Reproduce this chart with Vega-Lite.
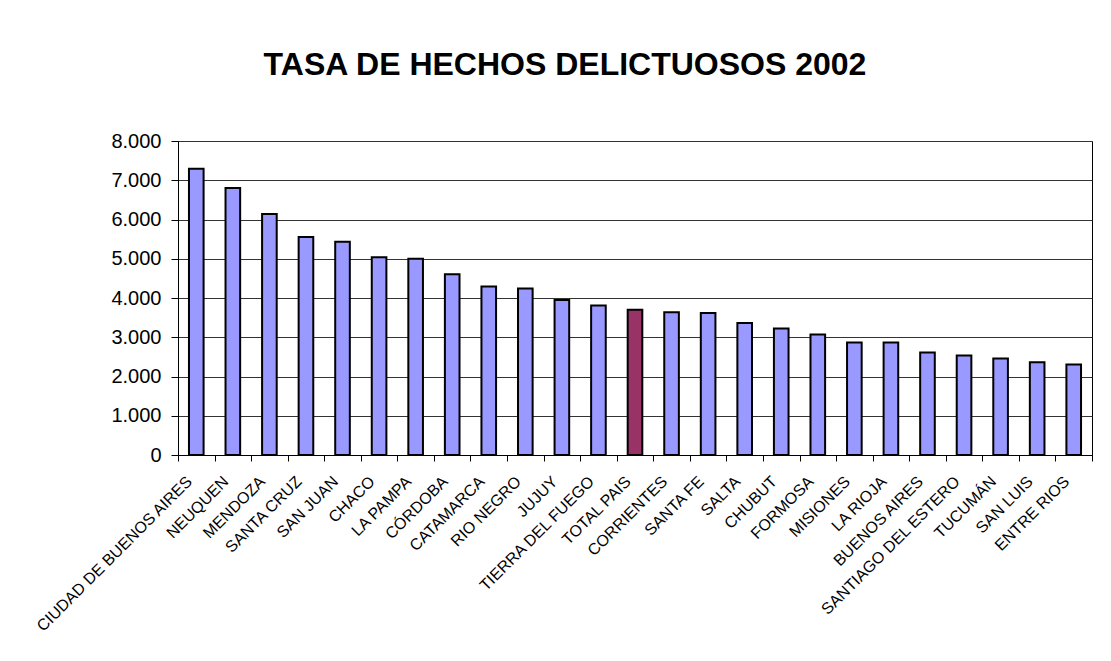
{
  "$schema": "https://vega.github.io/schema/vega-lite/v6.json",
  "autosize": "none",
  "width": 914,
  "height": 314,
  "padding": {"left": 178, "top": 141, "right": 19, "bottom": 206},
  "background": "white",
  "title": {
    "text": "TASA DE HECHOS DELICTUOSOS 2002",
    "font": "Liberation Sans",
    "fontSize": 32,
    "fontWeight": "bold",
    "color": "black",
    "anchor": "middle",
    "frame": "group",
    "baseline": "alphabetic",
    "offset": 24,
    "dx": -70
  },
  "config": {
    "locale": {"number": {"decimal": ",", "thousands": ".", "grouping": [3], "currency": ["$", ""]}},
    "view": {"stroke": "black", "strokeWidth": 1},
    "font": "Liberation Sans"
  },
  "data": {
    "values": [
      {"provincia": "CIUDAD DE BUENOS AIRES", "tasa": 7290, "tipo": "prov"},
      {"provincia": "NEUQUEN", "tasa": 6800, "tipo": "prov"},
      {"provincia": "MENDOZA", "tasa": 6140, "tipo": "prov"},
      {"provincia": "SANTA CRUZ", "tasa": 5555, "tipo": "prov"},
      {"provincia": "SAN JUAN", "tasa": 5430, "tipo": "prov"},
      {"provincia": "CHACO", "tasa": 5040, "tipo": "prov"},
      {"provincia": "LA PAMPA", "tasa": 5000, "tipo": "prov"},
      {"provincia": "CÓRDOBA", "tasa": 4605, "tipo": "prov"},
      {"provincia": "CATAMARCA", "tasa": 4290, "tipo": "prov"},
      {"provincia": "RIO NEGRO", "tasa": 4240, "tipo": "prov"},
      {"provincia": "JUJUY", "tasa": 3950, "tipo": "prov"},
      {"provincia": "TIERRA DEL FUEGO", "tasa": 3810, "tipo": "prov"},
      {"provincia": "TOTAL PAIS", "tasa": 3700, "tipo": "total"},
      {"provincia": "CORRIENTES", "tasa": 3640, "tipo": "prov"},
      {"provincia": "SANTA FE", "tasa": 3620, "tipo": "prov"},
      {"provincia": "SALTA", "tasa": 3360, "tipo": "prov"},
      {"provincia": "CHUBUT", "tasa": 3225, "tipo": "prov"},
      {"provincia": "FORMOSA", "tasa": 3070, "tipo": "prov"},
      {"provincia": "MISIONES", "tasa": 2865, "tipo": "prov"},
      {"provincia": "LA RIOJA", "tasa": 2865, "tipo": "prov"},
      {"provincia": "BUENOS AIRES", "tasa": 2610, "tipo": "prov"},
      {"provincia": "SANTIAGO DEL ESTERO", "tasa": 2535, "tipo": "prov"},
      {"provincia": "TUCUMÁN", "tasa": 2460, "tipo": "prov"},
      {"provincia": "SAN LUIS", "tasa": 2360, "tipo": "prov"},
      {"provincia": "ENTRE RIOS", "tasa": 2305, "tipo": "prov"}
    ]
  },
  "mark": {"type": "bar", "width": {"band": 0.4}, "stroke": "black", "strokeWidth": 2},
  "encoding": {
    "x": {
      "field": "provincia",
      "type": "nominal",
      "sort": null,
      "scale": {"paddingInner": 0, "paddingOuter": 0},
      "axis": {
        "title": null,
        "tickBand": "extent",
        "domainColor": "black",
        "tickColor": "black",
        "tickSize": 6,
        "labelAngle": -45,
        "labelAlign": "right",
        "labelBaseline": "top",
        "labelFont": "Liberation Sans",
        "labelFontSize": 16,
        "labelColor": "black",
        "labelOffset": -13,
        "labelPadding": 12,
        "labelOverlap": false,
        "labelLimit": 400,
        "grid": false
      }
    },
    "y": {
      "field": "tasa",
      "type": "quantitative",
      "scale": {"domain": [0, 8000], "nice": false},
      "axis": {
        "title": null,
        "values": [0, 1000, 2000, 3000, 4000, 5000, 6000, 7000, 8000],
        "format": ",d",
        "domainColor": "black",
        "tickColor": "black",
        "tickSize": 7,
        "labelFont": "Liberation Sans",
        "labelFontSize": 20,
        "labelColor": "black",
        "labelPadding": 10,
        "gridColor": "#333333",
        "gridOpacity": 1,
        "gridWidth": 1
      }
    },
    "fill": {
      "field": "tipo",
      "type": "nominal",
      "scale": {"domain": ["prov", "total"], "range": ["#9999FF", "#993366"]},
      "legend": null
    }
  }
}
